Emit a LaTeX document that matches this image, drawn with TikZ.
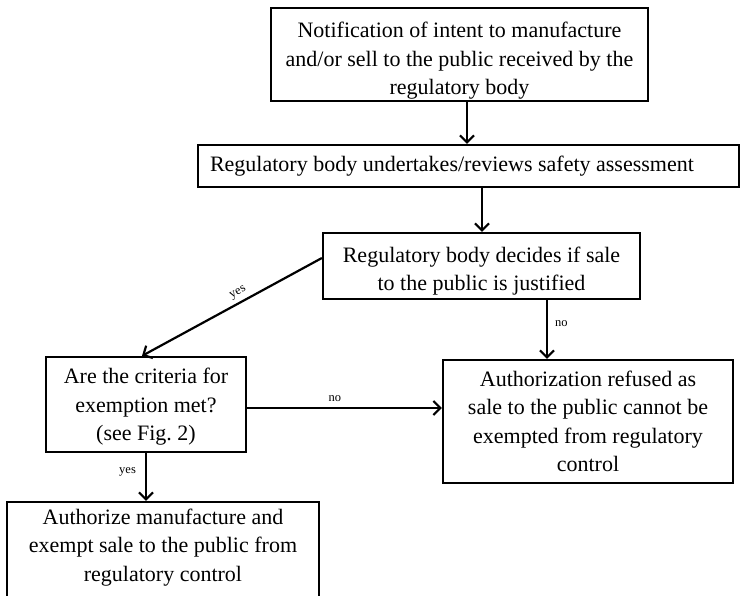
\documentclass[tikz,border=0pt]{standalone}
\usepackage{fontspec}
\setmainfont{Liberation Serif}
\usetikzlibrary{arrows.meta,calc}
\newcommand\lowertext[2]{\raisebox{-#1}[\height][\depth]{\begin{tabular}{@{}c@{}}#2\end{tabular}}}
\begin{document}
\begin{tikzpicture}[x=1pt,y=-1pt,
  box/.style={draw,line width=2.2pt,align=center,inner sep=0pt,
    font=\fontsize{22}{28.5}\selectfont},
  arr/.style={line width=2.2pt,-{Straight Barb[length=7pt,width=14pt,line width=2.2pt]}},
  lbl/.style={font=\fontsize{12.5}{14}\selectfont,inner sep=3pt}]
\useasboundingbox (0,0) rectangle (741,595);
\node[box,minimum width=377pt,minimum height=93pt] (b1) at (459.5,54.5)
  {\lowertext{6pt}{Notification of intent to manufacture\\and/or sell to the public received by the\\regulatory body}};
\node[box,minimum width=541pt,minimum height=42pt,text width=517pt,align=flush left] (b2) at (468.5,166)
  {Regulatory body undertakes/reviews safety assessment};
\node[box,minimum width=317pt,minimum height=66pt] (b3) at (481.5,266)
  {\lowertext{5pt}{Regulatory body decides if sale\\to the public is justified}};
\node[box,minimum width=290pt,minimum height=123pt] (b4) at (588,421.5)
  {\lowertext{2pt}{Authorization refused as\\sale to the public cannot be\\exempted from regulatory\\control}};
\node[box,minimum width=200pt,minimum height=95pt] (b5) at (146,404.5)
  {\lowertext{2pt}{Are the criteria for\\exemption met?\\(see Fig.~2)}};
\node[box,minimum width=312pt,minimum height=96pt] (b6) at (163,550)
  {\lowertext{-3pt}{Authorize manufacture and\\exempt sale to the public from\\regulatory control}};
\coordinate (x1) at (467,0);
\coordinate (x2) at (482,0);
\coordinate (x3) at (547,0);
\coordinate (x5) at (146,0);
\coordinate (y5) at (0,408);
\coordinate (d1) at (0,258);
\coordinate (d2) at (142,0);
\draw[arr] (b1.south -| x1) -- (b2.north -| x1);
\draw[arr] (b2.south -| x2) -- (b3.north -| x2);
\draw[arr] (b3.south -| x3) -- node[lbl,right,pos=0.4,xshift=4pt]{no} (b4.north -| x3);
\draw[arr] (b3.west |- d1) -- node[lbl,above,sloped,pos=0.44,inner sep=4pt]{yes} (b5.north -| d2);
\draw[arr] (b5.east |- y5) -- node[lbl,above,pos=0.45,inner sep=5pt]{no} (b4.west |- y5);
\draw[arr] (b5.south -| x5) -- node[lbl,left,pos=0.4,xshift=-6pt]{yes} (b6.north -| x5);
\end{tikzpicture}
\end{document}
